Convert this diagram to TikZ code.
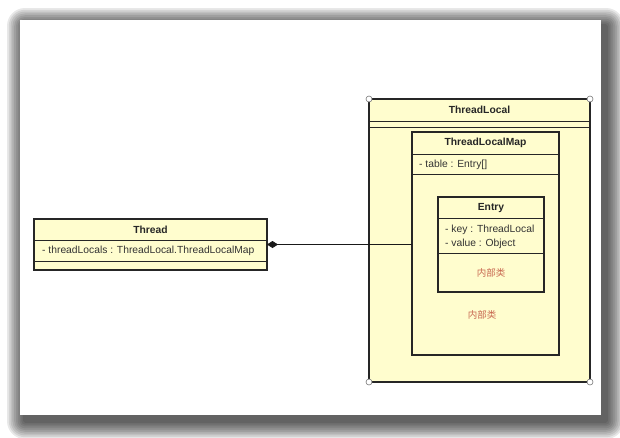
\documentclass[tikz,border=0pt]{standalone}
\usepackage{fontspec}
\setmainfont{Liberation Sans}
\newfontfamily\cjk{Noto Sans CJK SC}
\usetikzlibrary{arrows.meta, positioning}
\definecolor{umlYellow}{RGB}{255,253,206}
\definecolor{innerRed}{RGB}{200,104,80}
\definecolor{handleGray}{RGB}{120,120,120}

\begin{document}
\begin{tikzpicture}[
            x=1pt, y=-1pt,
            umlbox/.style={
                draw=black!85, line width=1.3pt, fill=umlYellow,
                anchor=north west, inner sep=0pt, outer sep=0pt
            },
            rowline/.style={black!85, line width=0.9pt},
            title/.style={font=\fontsize{10.3}{12}\selectfont\bfseries, text=black!85},
            attr/.style={font=\fontsize{10.3}{12}\selectfont, text=black!80, anchor=west, inner sep=0pt},
            innerlabel/.style={font=\cjk\fontsize{9.5}{11}\selectfont, text=innerRed},
            handle/.style={circle, draw=handleGray, fill=white, line width=0.6pt, inner sep=0pt, minimum size=6pt}
        ]
        \useasboundingbox (0, 0) rectangle (620, 437);

        % shadow and white panel
        \foreach \i in {1,...,10}
            \fill[black, opacity=0.09, rounded corners=1.8*\i]
                (25 - 1.8*\i, 26 - 1.8*\i) rectangle (606 + 1.8*\i, 421 + 1.8*\i);
        \fill[white] (20, 20) rectangle (601, 415);

        % ThreadLocal
        \node[umlbox, minimum width=221pt, minimum height=283pt] (threadLocal) at (369, 99) {};
        \draw[rowline] ([yshift=-22pt]threadLocal.north west) -- ([yshift=-22pt]threadLocal.north east);
        \draw[rowline] ([yshift=-28pt]threadLocal.north west) -- ([yshift=-28pt]threadLocal.north east);
        \node[title] (threadLocalTitle) at ([yshift=-11pt]threadLocal.north) {ThreadLocal};

        % ThreadLocalMap
        \node[umlbox, minimum width=147pt, minimum height=223pt] (localMap) at (412, 132) {};
        \draw[rowline] ([yshift=-22pt]localMap.north west) -- ([yshift=-22pt]localMap.north east);
        \draw[rowline] ([yshift=-42pt]localMap.north west) -- ([yshift=-42pt]localMap.north east);
        \node[title] (localMapTitle) at ([yshift=-11pt]localMap.north) {ThreadLocalMap};
        \node[attr] (tableAttr) at ([xshift=7pt, yshift=-33pt]localMap.north west) {- table : Entry[]};
        \node[innerlabel] (localMapInner) at (482, 315) {内部类};

        % Entry
        \node[umlbox, minimum width=106pt, minimum height=95pt] (entry) at (438, 197) {};
        \draw[rowline] ([yshift=-21pt]entry.north west) -- ([yshift=-21pt]entry.north east);
        \draw[rowline] ([yshift=-56pt]entry.north west) -- ([yshift=-56pt]entry.north east);
        \node[title] (entryTitle) at ([yshift=-11pt]entry.north) {Entry};
        \node[attr] (keyAttr) at ([xshift=7pt, yshift=-33pt]entry.north west) {- key : ThreadLocal};
        \node[attr] (valueAttr) at ([xshift=7pt, yshift=-47pt]entry.north west) {- value : Object};
        \node[innerlabel] (entryInner) at ([yshift=-76pt]entry.north) {内部类};

        % Thread
        \node[umlbox, minimum width=233pt, minimum height=51pt] (thread) at (34, 219) {};
        \draw[rowline] ([yshift=-21pt]thread.north west) -- ([yshift=-21pt]thread.north east);
        \draw[rowline] ([yshift=-42pt]thread.north west) -- ([yshift=-42pt]thread.north east);
        \node[title] (threadTitle) at ([yshift=-11pt]thread.north) {Thread};
        \node[attr] (localsAttr) at ([xshift=8pt, yshift=-32pt]thread.north west) {- threadLocals : ThreadLocal.ThreadLocalMap};

        % composition
        \draw[{Diamond[length=11pt, width=7pt]}-, line width=0.8pt, black!90] (thread.east) -- (localMap.west |- thread.east);

        % selection handles
        \node[handle] (handleNW) at (threadLocal.north west) {};
        \node[handle] (handleNE) at (threadLocal.north east) {};
        \node[handle] (handleSW) at (threadLocal.south west) {};
        \node[handle] (handleSE) at (threadLocal.south east) {};
    \end{tikzpicture}
\end{document}
